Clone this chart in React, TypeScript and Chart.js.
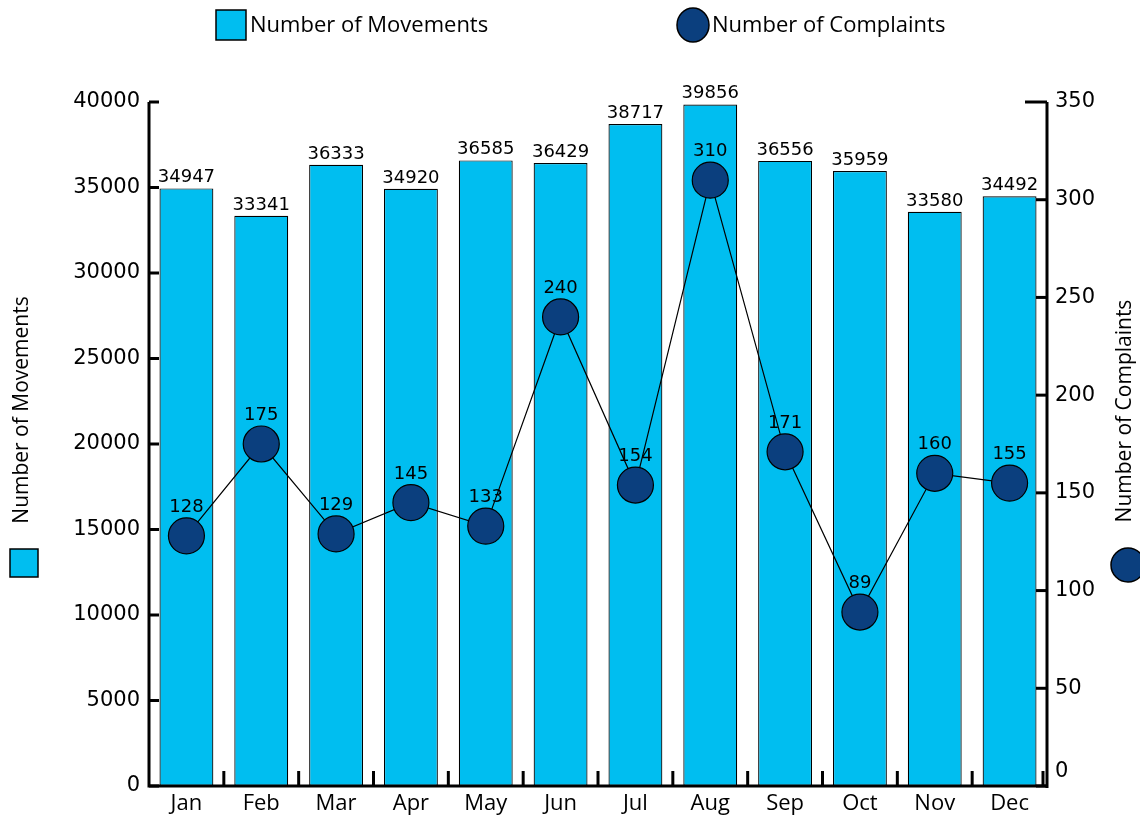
import React, { useEffect, useRef } from "react";
import { Chart, registerables } from "chart.js";

Chart.register(...registerables);

const months = ["Jan", "Feb", "Mar", "Apr", "May", "Jun", "Jul", "Aug", "Sep", "Oct", "Nov", "Dec"];
const movements = [34947, 33341, 36333, 34920, 36585, 36429, 38717, 39856, 36556, 35959, 33580, 34492];
const complaints = [128, 175, 129, 145, 133, 240, 154, 310, 171, 89, 160, 155];
const leftTicks = [0, 5000, 10000, 15000, 20000, 25000, 30000, 35000, 40000];
const rightTicks = [0, 50, 100, 150, 200, 250, 300, 350];

const BAR_COLOR = "#00BEF0";
const DOT_COLOR = "#0B3F7E";
const HUMAN = "'Open Sans', 'Noto Sans', sans-serif";
const MONO = "'DejaVu Sans', sans-serif";

const decorPlugin = {
  id: "decor",
  afterDraw(chart: any) {
    const ctx = chart.ctx as CanvasRenderingContext2D;
    const ca = chart.chartArea;
    const yL = chart.scales.y;
    const yR = chart.scales.y1;
    ctx.save();
    ctx.strokeStyle = "#000";
    ctx.lineWidth = 3;
    ctx.beginPath();
    ctx.moveTo(ca.left, ca.top);
    ctx.lineTo(ca.left, ca.bottom);
    ctx.lineTo(ca.right, ca.bottom);
    ctx.moveTo(ca.right, ca.top);
    ctx.lineTo(ca.right, ca.bottom + 2);
    ctx.stroke();
    leftTicks.forEach((v) => {
      const py = yL.getPixelForValue(v);
      ctx.beginPath();
      ctx.moveTo(ca.left, py);
      ctx.lineTo(ca.left + 10, py);
      ctx.stroke();
    });
    rightTicks.forEach((v) => {
      const py = yR.getPixelForValue(v);
      const len = v === rightTicks[rightTicks.length - 1] ? 22 : 11;
      ctx.beginPath();
      ctx.moveTo(ca.right, py);
      ctx.lineTo(ca.right - len, py);
      ctx.stroke();
    });
    const step = (ca.right - ca.left) / months.length;
    for (let i = 1; i <= months.length; i++) {
      const px = ca.left + step * i - (i === months.length ? 4 : 0);
      ctx.beginPath();
      ctx.moveTo(px, ca.bottom);
      ctx.lineTo(px, ca.bottom - 15);
      ctx.stroke();
    }
    ctx.fillStyle = "#000";
    ctx.font = `21px ${MONO}`;
    ctx.textAlign = "left";
    ctx.textBaseline = "middle";
    rightTicks.forEach((v) => {
      let py = yR.getPixelForValue(v);
      if (v === 0) py -= 14;
      ctx.fillText(String(v), ca.right + 8, py);
    });
    ctx.font = `18px ${MONO}`;
    ctx.textAlign = "center";
    ctx.textBaseline = "alphabetic";
    const barMeta = chart.getDatasetMeta(0);
    barMeta.data.forEach((el: any, i: number) => {
      ctx.fillText(String(movements[i]), el.x, el.y - 6);
    });
    const lineMeta = chart.getDatasetMeta(1);
    lineMeta.data.forEach((el: any, i: number) => {
      ctx.fillText(String(complaints[i]), el.x, el.y - 24);
    });
    ctx.font = `21px ${HUMAN}`;
    ctx.textAlign = "center";
    ctx.textBaseline = "middle";
    ctx.save();
    ctx.translate(22, 410);
    ctx.rotate(-Math.PI / 2);
    ctx.fillText("Number of Movements", 0, 0);
    ctx.restore();
    ctx.save();
    ctx.translate(1125, 411);
    ctx.rotate(-Math.PI / 2);
    ctx.fillText("Number of Complaints", 0, 0);
    ctx.restore();
    ctx.lineWidth = 1.5;
    ctx.fillStyle = BAR_COLOR;
    ctx.fillRect(10, 549, 28, 28);
    ctx.strokeRect(10, 549, 28, 28);
    ctx.fillStyle = DOT_COLOR;
    ctx.beginPath();
    ctx.arc(1128, 565, 17, 0, Math.PI * 2);
    ctx.fill();
    ctx.stroke();
    ctx.fillStyle = BAR_COLOR;
    ctx.fillRect(216, 10, 30, 30);
    ctx.strokeRect(216, 10, 30, 30);
    ctx.fillStyle = DOT_COLOR;
    ctx.beginPath();
    ctx.ellipse(693, 25, 16, 17, 0, 0, Math.PI * 2);
    ctx.fill();
    ctx.stroke();
    ctx.fillStyle = "#000";
    ctx.font = `22px ${HUMAN}`;
    ctx.textAlign = "left";
    ctx.fillText("Number of Movements", 250, 26);
    ctx.fillText("Number of Complaints", 712, 26);
    ctx.restore();
  },
};

export default function App() {
  const ref = useRef<HTMLCanvasElement | null>(null);
  useEffect(() => {
    document.body.style.margin = "0";
    const c = ref.current;
    if (!c) return;
    const chart = new Chart(c, {
      type: "bar",
      data: {
        labels: months,
        datasets: [
          {
            type: "bar",
            label: "Number of Movements",
            data: movements,
            backgroundColor: BAR_COLOR,
            borderColor: "#000",
            borderWidth: 1.2,
            borderSkipped: false,
            categoryPercentage: 1,
            barPercentage: 0.72,
            yAxisID: "y",
            order: 1,
          },
          {
            type: "line",
            label: "Number of Complaints",
            data: complaints,
            borderColor: "#000",
            borderWidth: 1.2,
            backgroundColor: DOT_COLOR,
            pointBackgroundColor: DOT_COLOR,
            pointBorderColor: "#000",
            pointBorderWidth: 1.2,
            pointRadius: 18,
            tension: 0,
            yAxisID: "y1",
            order: 0,
          } as any,
        ],
      },
      options: {
        animation: false,
        responsive: false,
        maintainAspectRatio: false,
        layout: { padding: { top: 102, left: 0, right: 0, bottom: 0 } },
        plugins: { legend: { display: false }, tooltip: { enabled: false } },
        scales: {
          x: {
            grid: { display: false, drawTicks: false },
            border: { display: false },
            ticks: { font: { family: HUMAN, size: 22 }, color: "#000", padding: 5 },
            afterFit(s: any) { s.height = 30; },
          },
          y: {
            position: "left",
            min: 0,
            max: 40000,
            grid: { display: false, drawTicks: false },
            border: { display: false },
            ticks: {
              stepSize: 5000,
              font: { family: MONO, size: 21 },
              color: "#000",
              padding: 9,
              callback: (v: any) => String(v),
            },
            afterFit(s: any) { s.width = 149; },
          },
          y1: {
            position: "right",
            min: 0,
            max: 350,
            grid: { display: false, drawTicks: false },
            border: { display: false },
            ticks: { display: false, stepSize: 50 },
            afterFit(s: any) { s.width = 93; },
          },
        },
      },
      plugins: [decorPlugin],
    });
    return () => chart.destroy();
  }, []);
  return (
    <div style={{ width: 1140, height: 816 }}>
      <canvas ref={ref} width={1140} height={816} style={{ display: "block" }} />
    </div>
  );
}
